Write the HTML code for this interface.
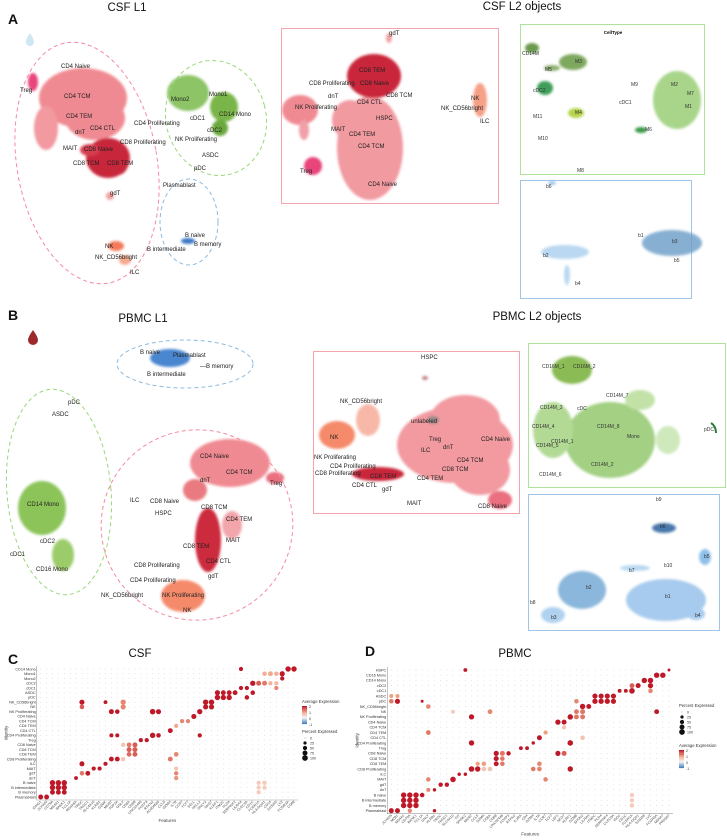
<!DOCTYPE html>
<html><head><meta charset="utf-8"><style>
body{margin:0;background:#fff;}
svg{display:block;font-family:"Liberation Sans",sans-serif;}
.lb{font-size:6px;fill:#222;}
.sm{font-size:5px;fill:#333;}
.tt{font-size:11.5px;fill:#111;text-anchor:middle;}
.pl{font-size:14px;font-weight:bold;fill:#111;}
</style></head><body>
<svg id="fig" width="727" height="840" viewBox="0 0 727 840">
<defs><filter id="bl" x="-20%" y="-20%" width="140%" height="140%"><feGaussianBlur stdDeviation="1.4"/></filter></defs>

<!-- Panel A -->
<text class="pl" x="8" y="24">A</text>
<text class="tt" x="127" y="11">CSF L1</text>
<path d="M30 33 q-4 6 -4 9 a4 4 0 0 0 8 0 q0 -3 -4 -9z" fill="#cfe6f3"/>
<g filter="url(#bl)">
<ellipse cx="83" cy="98" rx="44" ry="30" fill="#f08a92"/>
<ellipse cx="95" cy="118" rx="30" ry="22" fill="#f08a92"/>
<ellipse cx="46" cy="128" rx="12" ry="22" fill="#f29aa0"/>
<ellipse cx="33" cy="82" rx="5" ry="9" fill="#e8457a"/>
<ellipse cx="108" cy="158" rx="22" ry="20" fill="#c8283a"/>
<ellipse cx="118" cy="160" rx="11" ry="15" fill="#c8283a"/>
<ellipse cx="90" cy="150" rx="10" ry="6" fill="#d43e50"/>
<ellipse cx="110" cy="196" rx="4" ry="4" fill="#f2a0a0"/>
<ellipse cx="116" cy="246" rx="8" ry="5" fill="#f47a5a"/>
<ellipse cx="125" cy="260" rx="6" ry="5" fill="#f7a990"/>
<ellipse cx="188" cy="93" rx="21" ry="18" fill="#8cc466"/>
<ellipse cx="224" cy="107" rx="14" ry="15" fill="#7ab548"/>
<ellipse cx="220" cy="128" rx="8" ry="8" fill="#6aa83c"/>
<ellipse cx="188" cy="241" rx="7" ry="3" fill="#3a78c8"/>
</g>
<g fill="none" stroke-dasharray="4 3" stroke-width="1">
<ellipse cx="87" cy="163" rx="70" ry="122" stroke="#f48aa0" transform="rotate(-10 87 163)"/>
<ellipse cx="216" cy="118" rx="50" ry="58" stroke="#9bd77a" transform="rotate(-15 216 118)"/>
<ellipse cx="189" cy="222" rx="29" ry="43" stroke="#8bbbe0"/>
</g>
<g class="lb">
<text x="61" y="68">CD4 Naive</text><text x="20" y="92">Treg</text><text x="64" y="98">CD4 TCM</text>
<text x="66" y="118">CD4 TEM</text><text x="90" y="130">CD4 CTL</text><text x="75" y="134">dnT</text>
<text x="120" y="144">CD8 Proliferating</text><text x="63" y="150">MAIT</text><text x="84" y="151">CD8 Naive</text>
<text x="73" y="165">CD8 TCM</text><text x="107" y="165">CD8 TEM</text><text x="110" y="195">gdT</text>
<text x="105" y="248">NK</text><text x="95" y="259">NK_CD56bright</text><text x="130" y="274">ILC</text>
<text x="171" y="101">Mono2</text><text x="209" y="96">Mono1</text><text x="219" y="116">CD14 Mono</text>
<text x="134" y="125">CD4 Proliferating</text><text x="190" y="120">cDC1</text><text x="207" y="132">cDC2</text>
<text x="175" y="141">NK Proliferating</text><text x="202" y="157">ASDC</text><text x="194" y="170">pDC</text>
<text x="163" y="187">Plasmablast</text><text x="185" y="237">B naive</text><text x="194" y="246">B memory</text>
<text x="147" y="251">B intermediate</text>
</g>

<text class="tt" x="522" y="10">CSF L2 objects</text>
<rect x="281.5" y="28.5" width="217" height="175" fill="none" stroke="#f5a3ad"/>
<g filter="url(#bl)">
<ellipse cx="370" cy="148" rx="33" ry="52" fill="#f19aa0"/>
<ellipse cx="350" cy="120" rx="18" ry="20" fill="#f19aa0"/>
<ellipse cx="374" cy="76" rx="27" ry="22" fill="#c9283a"/>
<ellipse cx="300" cy="110" rx="18" ry="15" fill="#f08a92"/>
<ellipse cx="304" cy="130" rx="5" ry="10" fill="#f2a0a8"/>
<ellipse cx="313" cy="166" rx="9" ry="9" fill="#e8457a"/>
<ellipse cx="389" cy="38" rx="3" ry="5" fill="#f2a0a0"/>
<ellipse cx="480" cy="100" rx="7" ry="17" fill="#f6a088"/>
</g>
<g class="lb">
<text x="389" y="35">gdT</text><text x="359" y="72">CD8 TEM</text><text x="309" y="85">CD8 Proliferating</text>
<text x="360" y="85">CD8 Naive</text><text x="328" y="98">dnT</text><text x="386" y="97">CD8 TCM</text>
<text x="357" y="104">CD4 CTL</text><text x="295" y="109">NK Proliferating</text><text x="376" y="120">HSPC</text>
<text x="331" y="131">MAIT</text><text x="349" y="136">CD4 TEM</text><text x="358" y="148">CD4 TCM</text>
<text x="300" y="173">Treg</text><text x="368" y="186">CD4 Naive</text><text x="471" y="100">NK</text>
<text x="441" y="110">NK_CD56bright</text><text x="480" y="123">ILC</text>
</g>
<rect x="520.5" y="24.5" width="184" height="150" fill="none" stroke="#aee39a"/>
<text x="613" y="34" style="font-size:4.5px;font-weight:bold;text-anchor:middle">CellType</text>
<g filter="url(#bl)">
<ellipse cx="532" cy="48" rx="7" ry="5" fill="#6b9a4e"/>
<ellipse cx="573" cy="62" rx="14" ry="8" fill="#7fa85f"/>
<ellipse cx="552" cy="68" rx="8" ry="3" fill="#8fb070"/>
<ellipse cx="545" cy="88" rx="8" ry="7" fill="#3f9e5a"/>
<ellipse cx="576" cy="113" rx="8" ry="5" fill="#b5d44a"/>
<ellipse cx="677" cy="100" rx="24" ry="29" fill="#a8d58a"/>
<ellipse cx="641" cy="130" rx="6" ry="3" fill="#3a9a48"/>
</g>
<g class="sm">
<text x="522" y="55">CD14M</text><text x="575" y="63">M3</text><text x="545" y="71">M5</text><text x="533" y="92">cDC2</text>
<text x="631" y="86">M9</text><text x="671" y="86">M2</text><text x="687" y="95">M7</text><text x="685" y="108">M1</text>
<text x="619" y="104">cDC1</text><text x="575" y="114">M4</text><text x="533" y="118">M11</text><text x="538" y="140">M10</text>
<text x="645" y="131">M6</text><text x="577" y="172">M8</text>
</g>
<rect x="520.5" y="180.5" width="171" height="118" fill="none" stroke="#9fc6e6"/>
<g filter="url(#bl)" opacity="0.8">
<ellipse cx="565" cy="252" rx="24" ry="7" fill="#a9cfee"/>
<ellipse cx="567" cy="275" rx="3" ry="10" fill="#a9cfee"/>
<ellipse cx="672" cy="243" rx="30" ry="13" fill="#6a9cc8"/>
<ellipse cx="552" cy="183" rx="4" ry="2" fill="#8ab8e0"/>
</g>
<g class="sm">
<text x="546" y="188">b6</text><text x="543" y="257">b2</text><text x="575" y="285">b4</text>
<text x="638" y="237">b1</text><text x="672" y="243">b3</text><text x="674" y="262">b5</text>
</g>

<!-- Panel B -->
<text class="pl" x="8" y="320">B</text>
<text class="tt" x="143" y="322">PBMC L1</text>
<path d="M33 330 q-5 7 -5 10 a5 5 0 0 0 10 0 q0 -3 -5 -10z" fill="#9c2a2a"/>
<g filter="url(#bl)">
<ellipse cx="170" cy="358" rx="20" ry="9" fill="#4a86cf"/>
<ellipse cx="42" cy="508" rx="24" ry="27" fill="#8cc45a"/>
<ellipse cx="63" cy="555" rx="11" ry="16" fill="#9ccc6a"/>
<ellipse cx="230" cy="463" rx="40" ry="24" fill="#f08a92"/>
<ellipse cx="275" cy="478" rx="9" ry="6" fill="#ea7080"/>
<ellipse cx="195" cy="490" rx="12" ry="11" fill="#e87a80"/>
<ellipse cx="232" cy="525" rx="10" ry="14" fill="#f2a5aa"/>
<ellipse cx="208" cy="540" rx="13" ry="32" fill="#cc2a3d"/>
<ellipse cx="183" cy="596" rx="22" ry="16" fill="#f58a6a"/>
</g>
<g fill="none" stroke-dasharray="4 3" stroke-width="1">
<ellipse cx="185" cy="364" rx="68" ry="24" stroke="#8bbbe0"/>
<ellipse cx="59" cy="492" rx="52" ry="103" stroke="#9bd77a" transform="rotate(-5 59 492)"/>
<ellipse cx="197" cy="525" rx="96" ry="95" stroke="#f48aa0" transform="rotate(-25 197 525)"/>
</g>
<g class="lb">
<text x="140" y="354">B naive</text><text x="173" y="357">Plasmablast</text><text x="200" y="368">—B memory</text>
<text x="147" y="376">B intermediate</text><text x="68" y="404">pDC</text><text x="52" y="416">ASDC</text>
<text x="27" y="506">CD14 Mono</text><text x="40" y="543">cDC2</text><text x="10" y="556">cDC1</text><text x="36" y="571">CD16 Mono</text>
<text x="200" y="458">CD4 Naive</text><text x="226" y="474">CD4 TCM</text><text x="270" y="485">Treg</text>
<text x="200" y="482">dnT</text><text x="130" y="502">ILC</text><text x="150" y="503">CD8 Naive</text>
<text x="155" y="515">HSPC</text><text x="201" y="509">CD8 TCM</text><text x="226" y="521">CD4 TEM</text>
<text x="226" y="542">MAIT</text><text x="183" y="548">CD8 TEM</text><text x="206" y="563">CD4 CTL</text>
<text x="134" y="567">CD8 Proliferating</text><text x="208" y="578">gdT</text><text x="130" y="582">CD4 Proliferating</text>
<text x="101" y="597">NK_CD56bright</text><text x="162" y="597">NK Proliferating</text><text x="183" y="612">NK</text>
</g>

<text class="tt" x="537" y="320">PBMC L2 objects</text>
<rect x="313.5" y="351.5" width="206" height="162" fill="none" stroke="#f5a3ad"/>
<g filter="url(#bl)">
<ellipse cx="455" cy="445" rx="58" ry="38" fill="#f29aa0"/>
<ellipse cx="465" cy="420" rx="35" ry="25" fill="#f29aa0"/>
<ellipse cx="480" cy="470" rx="30" ry="25" fill="#f29aa0"/>
<ellipse cx="337" cy="435" rx="18" ry="14" fill="#f58a6a"/>
<ellipse cx="368" cy="420" rx="12" ry="16" fill="#f7b8a8"/>
<ellipse cx="378" cy="474" rx="26" ry="7" fill="#c9283a"/>
<ellipse cx="500" cy="500" rx="12" ry="9" fill="#ea7080"/>
<ellipse cx="433" cy="420" rx="6" ry="4" fill="#9a8a8a"/>
<ellipse cx="425" cy="378" rx="3" ry="2" fill="#c08080"/>
</g>
<g class="lb">
<text x="421" y="359">HSPC</text><text x="340" y="403">NK_CD56bright</text><text x="411" y="423">unlabeled</text>
<text x="330" y="439">NK</text><text x="429" y="441">Treg</text><text x="443" y="449">dnT</text>
<text x="481" y="441">CD4 Naive</text><text x="421" y="452">ILC</text><text x="314" y="459">NK Proliferating</text>
<text x="457" y="462">CD4 TCM</text><text x="330" y="468">CD4 Proliferating</text><text x="442" y="471">CD8 TCM</text>
<text x="315" y="475">CD8 Proliferating</text><text x="370" y="478">CD8 TEM</text><text x="417" y="480">CD4 TEM</text>
<text x="352" y="487">CD4 CTL</text><text x="382" y="491">gdT</text><text x="407" y="505">MAIT</text>
<text x="478" y="508">CD8 Naive</text>
</g>
<rect x="528.5" y="343.5" width="197" height="144" fill="none" stroke="#aee39a"/>
<g filter="url(#bl)">
<ellipse cx="610" cy="440" rx="45" ry="38" fill="#a3d083"/>
<ellipse cx="553" cy="430" rx="20" ry="28" fill="#b3da95"/>
<ellipse cx="572" cy="370" rx="20" ry="14" fill="#8abb55"/>
<ellipse cx="640" cy="400" rx="15" ry="10" fill="#c2e2a8"/>
<ellipse cx="668" cy="440" rx="12" ry="14" fill="#cfe8bc"/>
</g>
<path d="M711 423 q5 3 5 10" stroke="#2e7d32" stroke-width="2" fill="none"/>
<g class="sm">
<text x="542" y="368">CD16M_1</text><text x="573" y="368">CD16M_2</text><text x="606" y="397">CD14M_7</text>
<text x="540" y="409">CD14M_3</text><text x="577" y="410">cDC</text><text x="532" y="428">CD14M_4</text>
<text x="597" y="428">CD14M_8</text><text x="627" y="438">Mono</text><text x="551" y="443">CD14M_1</text>
<text x="536" y="447">CD14M_5</text><text x="591" y="466">CD14M_2</text><text x="539" y="476">CD14M_6</text>
<text x="704" y="431">pDC</text>
</g>
<rect x="528.5" y="494.5" width="191" height="136" fill="none" stroke="#9fc6e6"/>
<g filter="url(#bl)">
<ellipse cx="582" cy="590" rx="24" ry="19" fill="#8bb7dc"/>
<ellipse cx="666" cy="600" rx="40" ry="21" fill="#a7cbee"/>
<ellipse cx="553" cy="615" rx="12" ry="8" fill="#b0d2f0"/>
<ellipse cx="696" cy="614" rx="9" ry="6" fill="#a7cbee"/>
<ellipse cx="664" cy="528" rx="12" ry="5" fill="#4a78aa"/>
<ellipse cx="705" cy="557" rx="6" ry="8" fill="#8ec0ea"/>
<ellipse cx="635" cy="568" rx="15" ry="3" fill="#b8d8f2"/>
</g>
<g class="sm">
<text x="656" y="501">b9</text><text x="660" y="528">b6</text><text x="704" y="558">b5</text>
<text x="664" y="567">b10</text><text x="629" y="572">b7</text><text x="586" y="589">b2</text>
<text x="665" y="598">b1</text><text x="530" y="604">b8</text><text x="551" y="619">b3</text><text x="695" y="617">b4</text>
</g>

<!-- Panels C/D -->
<text class="pl" x="8" y="664">C</text>
<text class="tt" x="140" y="657">CSF</text>
<text class="pl" x="365" y="656">D</text>
<text class="tt" x="515" y="657">PBMC</text>
<g id="dotC"></g>
<g id="dotD"></g>
</svg>
<script>
const csfRows=["CD14 Mono","Mono1","Mono2","cDC2","cDC1","ASDC","pDC","NK_CD56bright","NK","NK Proliferating","CD4 Naive","CD4 TCM","CD4 TEM","CD4 CTL","CD4 Proliferating","Treg","CD8 Naive","CD8 TCM","CD8 TEM","CD8 Proliferating","ILC","MAIT","gdT","dnT","B naive","B intermediate","B memory","Plasmablast"];
const pbmcRows=["HSPC","CD16 Mono","CD14 Mono","cDC2","cDC1","ASDC","pDC","NK_CD56bright","NK","NK Proliferating","CD4 Naive","CD4 TCM","CD4 TEM","CD4 CTL","CD4 Proliferating","Treg","CD8 Naive","CD8 TCM","CD8 TEM","CD8 Proliferating","ILC","MAIT","gdT","dnT","B naive","B intermediate","B memory","Plasmablast"];
const csfFeatures=["IGHG1","JCHAIN","CD79A","MS4A1","BANK1","TCL1A","MS4A6A","TRDC","TRGC1","SLC4A10","KLRB1","GZMK","MKI67","TOP2A","GNLY","CD8A","CD8B","LINC02446","FOXP3","RTKN2","AC004585","CCL5","GZMH","IL7R","CCR7","TCF7","SELL","NELL2","GNLY2","NKG7","KLRF1","ITM2C","PLD4","SERPINF2","LILRA4","CLEC9A","CD1C","FCER1A","HLA-DQA1","CD14","S100A9","LYZ","FCGR3A","CD68"];
const pbmcFeatures=["JCHAIN","MZB1","MS4A1","CD79A","BANK1","TCL1A","GNLY","KLRB1","TRDC","TRGC1","SLC4A10","KIT","SPINK2","MKI67","CCL5","GZMK","CD8A","CD8B","LINC02446","FOXP3","RTKN2","IL2RA","CD4","GZMH","IL7R","CCR7","TCF7","LEF1","NKG7","KLRF1","GZMB","SPON2","LILRA4","ITM2C","PLD4","SERPINF4","CLEC9A","IDO1","CD1C","FCER1A","HLA-DQA1","S100A8","LYZ","FCGR3A","MS4A7","PRSS57"];
// hits: [row, col, percentExpressed, avgExpression]
const csfHitRow=[0,0,0,1,1,1,1,2,3,3,3,3,3,4,4,4,5,5,5,5,5,6,6,6,6,7,7,7,7,7,8,8,8,8,9,9,9,9,9,10,11,11,12,13,14,14,14,14,14,15,15,16,16,16,17,17,18,18,18,19,19,19,19,20,20,21,21,21,22,22,22,23,23,24,24,24,24,24,25,25,25,25,25,26,26,26,26,27,27];
const csfHitCol=[42,43,34,41,38,39,40,41,36,37,38,39,40,34,35,40,30,31,32,33,36,30,31,32,35,7,11,14,28,29,7,14,28,29,12,13,19,20,27,26,24,25,23,22,12,13,19,20,27,17,18,15,16,14,15,16,15,16,23,12,13,14,22,7,11,9,10,23,7,8,23,6,23,2,3,4,37,38,2,3,4,37,38,2,3,4,37,0,1];
const csfHitPct=[90,90,50,80,60,70,60,50,85,75,70,50,50,50,50,50,80,70,70,70,60,90,85,85,60,80,40,85,90,90,60,80,80,80,75,60,95,80,85,80,50,50,50,70,45,45,90,60,50,50,50,65,75,55,70,75,65,70,60,70,70,50,70,75,50,50,50,45,60,70,55,40,55,90,90,90,55,60,90,90,90,50,55,70,70,70,50,70,70];
const csfHitAvg=[2,2,2,2,0.8,0.9,0.8,2,2,1.5,1.3,0.8,0.7,2,2,1.2,2,2,2,2,2,2,2,2,2,2,2,1.2,2,2,1.5,1.2,2,2,2,2,2,2,2,2,1.2,1.2,0.9,2,2,2,2,2,2,2,2,1.3,1.5,0.6,1.5,1.5,1.4,1.5,1.2,2,2,0.6,1.3,2,2,2,2,0.6,1.3,2,1.2,2,1.1,2,2,2,0.5,0.5,2,2,2,0.5,0.5,2,2,2,0.5,2,2];
const pbmcHitRow=[0,0,1,1,2,2,3,3,3,4,4,4,4,5,5,5,5,5,5,6,6,6,6,6,6,6,6,7,7,7,8,8,8,8,8,9,9,9,9,10,10,11,12,12,13,13,14,14,14,15,15,16,16,16,16,16,17,17,18,18,18,18,18,19,19,19,19,19,19,19,20,20,21,21,21,22,22,23,23,24,24,24,24,24,25,25,25,25,26,26,26,26,27,27,27,27];
const pbmcHitCol=[12,45,43,44,41,42,39,40,42,37,38,39,42,0,1,33,34,35,36,0,1,5,30,33,34,35,36,6,31,32,10,16,30,31,43,13,29,30,31,27,28,28,6,25,24,31,13,23,29,21,22,17,18,19,27,28,17,18,14,15,17,18,24,13,14,15,16,23,24,29,11,12,10,6,25,8,9,6,7,2,3,4,5,39,2,3,4,39,2,3,4,39,0,1,3,7];
const pbmcHitPct=[40,20,90,90,90,90,70,75,85,40,40,95,60,45,45,80,80,80,80,60,80,20,60,85,85,85,80,60,90,70,50,65,70,75,70,85,90,70,70,85,75,50,65,50,75,60,90,30,95,40,40,80,75,55,80,75,75,60,50,60,70,60,60,95,90,60,60,60,65,90,30,30,95,60,60,55,55,45,30,90,90,90,60,55,90,90,90,55,90,90,90,55,75,75,50,30];
const pbmcHitAvg=[2,2,2,2,2,2,1.5,2,2,2,2,2,1.2,1,1,2,2,2,2,1.3,2,2,1.2,2,2,2,2,1.2,2,2,0.5,1.2,1.3,1.3,2,2,2,1.3,1.3,2,2,0.6,1.3,1,2,0.6,2,2,2,2,2,2,1.3,2,2,1.5,2,1.3,1,1,2,1.3,1.2,2,2,0.6,0.6,1.3,1.2,2,2,2,2,1.2,1.2,2,2,1.2,2,2,2,2,2,0.5,2,2,2,0.5,2,2,2,0.5,2,2,1.2,2];

const NS="http://www.w3.org/2000/svg";
function mk(tag,attrs,parent){const e=document.createElementNS(NS,tag);for(const k in attrs)e.setAttribute(k,attrs[k]);parent.appendChild(e);return e;}
function lerp(a,b,t){return a.map((v,i)=>Math.round(v+(b[i]-v)*t));}
function colorScale(v){
  const blue=[59,123,191],white=[247,247,247],mid=[240,160,130],red=[190,25,40];
  let c;
  if(v<0)c=lerp(white,blue,Math.min(1,-v));
  else if(v<1)c=lerp(white,mid,v);
  else c=lerp(mid,red,Math.min(1,v-1));
  return "rgb("+c.join(",")+")";
}
function rScale(p){return 0.35+2.5*Math.sqrt(p/100);}

function drawDot(gid,rows,feats,hr,hc,hp,ha,x0,x1,y0,y1,legendX,legendY,sizeFirst){
  const g=document.getElementById(gid);
  const nx=feats.length,ny=rows.length;
  const xs=(x1-x0)/(nx-1),ys=(y1-y0)/(ny-1);
  const X=c=>x0+c*xs, Y=r=>y0+r*ys;
  const ax=mk("path",{d:`M${x0-4} ${y0-3}V${y1+3}H${x1+4}`,stroke:"#999","stroke-width":0.6,fill:"none"},g);
  
  
  rows.forEach((r,i)=>{
    const t=mk("text",{x:x0-5,y:Y(i)+1.3,"text-anchor":"end","font-size":"3.8",fill:"#333"},g);t.textContent=r;
    
    
    for(let c=0;c<nx;c++){
      const d=mk("circle",{cx:X(c),cy:Y(i),r:0.45,fill:"#d6d6d6"},g);
      
      
    }
  });
  feats.forEach((f,c)=>{
    const t=mk("text",{x:X(c)+1,y:y1+5,"text-anchor":"end","font-size":"3.5",fill:"#444",transform:`rotate(-45 ${X(c)+1} ${y1+5})`},g);t.textContent=f;
    
    
  });
  for(let k=0;k<hr.length;k++){
    const d=mk("circle",{cx:X(hc[k]),cy:Y(hr[k]),r:rScale(hp[k]),fill:colorScale(ha[k])},g);
    
    
  }
  const it=mk("text",{x:0,y:0,"font-size":"4.5",fill:"#444","text-anchor":"middle",transform:`translate(${x0-33} ${(y0+y1)/2}) rotate(-90)`},g);it.textContent="Identity";
  
  
  const ft=mk("text",{x:(x0+x1)/2,y:y1+25,"font-size":"4.5",fill:"#444","text-anchor":"middle"},g);ft.textContent="Features";
  
  
  const lg=mk("g",{},g);
  
  
  const colorLeg=(yy)=>{
    const t=mk("text",{x:legendX,y:yy,"font-size":"4.2",fill:"#333"},lg);t.textContent="Average Expression";
    for(let i=0;i<20;i++){mk("rect",{x:legendX,y:yy+3+i*0.9,width:5,height:1,fill:colorScale(2-i*3/19)},lg);}
    [["2",0],["1",6],["0",12],["-1",18]].forEach(([s,o])=>{const q=mk("text",{x:legendX+7,y:yy+5+o,"font-size":"3.6",fill:"#333"},lg);q.textContent=s;});
  };
  const sizeLeg=(yy)=>{
    const t=mk("text",{x:legendX,y:yy,"font-size":"4.2",fill:"#333"},lg);t.textContent="Percent Expressed";
    [0,25,50,75,100].forEach((p,i)=>{mk("circle",{cx:legendX+3,cy:yy+5+i*5,r:rScale(p),fill:"#111"},lg);
      const q=mk("text",{x:legendX+8,y:yy+6.3+i*5,"font-size":"3.6",fill:"#333"},lg);q.textContent=p;});
  };
  if(sizeFirst){sizeLeg(legendY);colorLeg(legendY+40);}else{colorLeg(legendY);sizeLeg(legendY+30);}
}
drawDot("dotC",csfRows,csfFeatures,csfHitRow,csfHitCol,csfHitPct,csfHitAvg,40.7,294,669,797,302,703,false);
drawDot("dotD",pbmcRows,pbmcFeatures,pbmcHitRow,pbmcHitCol,pbmcHitPct,pbmcHitAvg,391.3,669,670,810.7,679,707,true);
</script>
</body></html>
